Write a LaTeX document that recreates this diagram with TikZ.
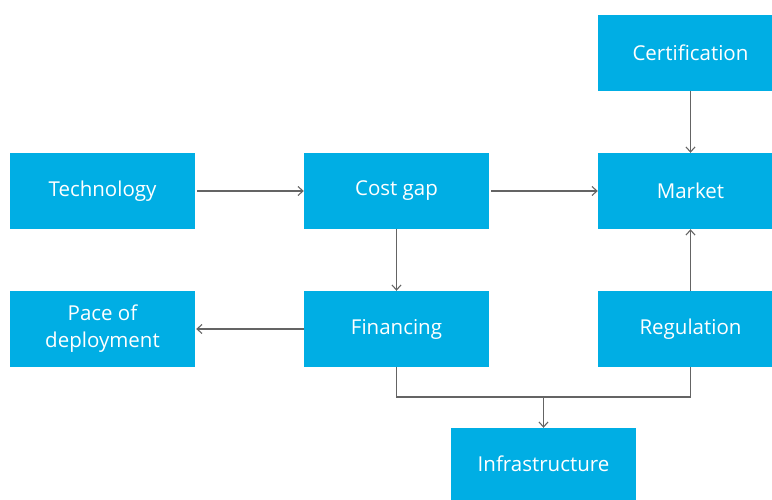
\documentclass[tikz,border=0pt]{standalone}
\usepackage{fontspec}
\setmainfont{Open Sans}
\usepackage{tikz}
\usetikzlibrary{positioning, arrows.meta}
\definecolor{boxblue}{RGB}{0, 174, 228}
\definecolor{linegray}{RGB}{100, 100, 100}

\tikzset{
  factor/.style={fill=boxblue, text=white, minimum width=185pt, minimum height=76pt,
    inner sep=0pt, align=center, font=\fontsize{20.5}{27}\selectfont},
  link/.style={draw=linegray, line width=1.1pt, -{Straight Barb[length=5pt, width=9pt]}}
}

\begin{document}
\begin{tikzpicture}[x=1pt, y=-1pt]
  \useasboundingbox (0,0) rectangle (772,500);
  % top row and middle row
  \node[factor] (cert) at (690.5,53) {Certification};
  \node[factor] (tech) at (102.5,191) {Technology};
  \node[factor] (cost) at (396.5,191) {Cost gap};
  \node[factor] (market) at (690.5,191) {Market};
  % bottom rows
  \node[factor] (pace) at (102.5,329) {Pace of\\deployment};
  \node[factor] (fin) at (396.5,329) {Financing};
  \node[factor] (reg) at (690.5,329) {Regulation};
  \node[factor, minimum height=72pt] (infra) at (543.5,464) {Infrastructure};
  \coordinate (join) at (543.5,397);

  \draw[link] ([xshift=2pt]tech.east) -- (cost.west);
  \draw[link] ([xshift=2pt]cost.east) -- (market.west);
  \draw[link] (cert.south) -- (market.north);
  \draw[link] (reg.north) -- (market.south);
  \draw[link] (cost.south) -- (fin.north);
  \draw[link] (fin.west) -- ([xshift=1pt]pace.east);
  \draw[draw=linegray, line width=1.1pt] (fin.south) |- (join) -| (reg.south);
  \draw[link] (join) -- (infra.north);
\end{tikzpicture}
\end{document}
